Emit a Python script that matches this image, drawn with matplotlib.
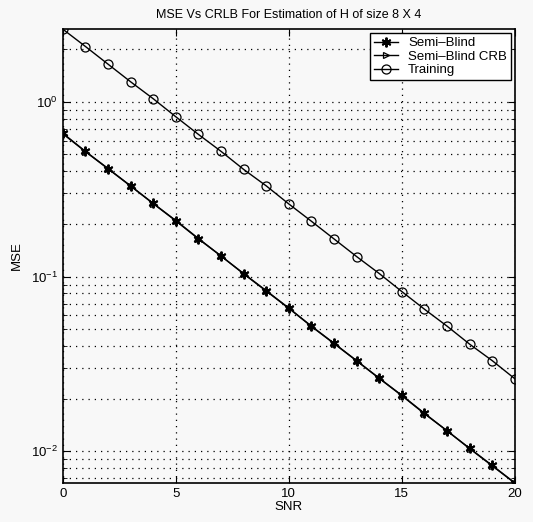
import matplotlib
matplotlib.use("Agg")
import matplotlib.pyplot as plt
from matplotlib.ticker import LogLocator, NullFormatter

plt.rcParams['font.family'] = ['Liberation Sans', 'DejaVu Sans']

snr = list(range(0, 21))
semi_blind = [0.66, 0.52, 0.415, 0.33, 0.262, 0.209, 0.165, 0.131, 0.104, 0.083, 0.066,
              0.052, 0.0415, 0.033, 0.0262, 0.0209, 0.0165, 0.0131, 0.0104, 0.0083, 0.0066]
semi_blind_crb = [0.655, 0.518, 0.413, 0.329, 0.261, 0.208, 0.164, 0.131, 0.1035, 0.0825, 0.0657,
                  0.0518, 0.0413, 0.0329, 0.0261, 0.0208, 0.0164, 0.0131, 0.01035, 0.00825, 0.00657]
training = [2.60, 2.07, 1.64, 1.30, 1.04, 0.82, 0.65, 0.52, 0.41, 0.33, 0.26,
            0.207, 0.164, 0.130, 0.104, 0.082, 0.065, 0.052, 0.041, 0.033, 0.026]

title = "MSE Vs CRLB For Estimation of H of size 8 X 4"
labels = ["Semi–Blind", "Semi–Blind CRB", "Training"]

bg = '#f8f8f8'
fig = plt.figure(figsize=(5.33, 5.22), dpi=100, facecolor=bg)
ax = fig.add_axes([0.118, 0.075, 0.848, 0.869], facecolor=bg)

ax.semilogy(snr, semi_blind, 'k-', marker=(6, 2, 0), markersize=7, markeredgewidth=1.4,
            linewidth=1.0, label=labels[0])
ax.semilogy(snr, semi_blind_crb, 'k-', marker='>', markersize=5, markerfacecolor='none',
            markeredgewidth=0.9, linewidth=1.0, label=labels[1])
ax.semilogy(snr, training, 'k-', marker='o', markersize=6.5, markerfacecolor='none',
            markeredgewidth=0.9, linewidth=1.0, label=labels[2])

ax.set_xlim(0, 20)
ax.set_ylim(0.0066, 2.6)
ax.set_xticks([0, 5, 10, 15, 20])
ax.yaxis.set_major_locator(LogLocator(base=10, numticks=10))
ax.yaxis.set_minor_locator(LogLocator(base=10, subs=range(2, 10), numticks=20))
ax.yaxis.set_minor_formatter(NullFormatter())

ax.grid(True, which='major', axis='both', linestyle=(0, (1, 4)), color='k', linewidth=0.9)
ax.grid(True, which='minor', axis='y', linestyle=(0, (1, 4)), color='k', linewidth=0.9)

ax.tick_params(which='both', direction='in', top=True, right=True, labelsize=9.5)
ax.tick_params(which='major', length=5)
ax.tick_params(which='minor', length=3)
for s in ax.spines.values():
    s.set_linewidth(1.2)

ax.set_title(title, fontsize=9, pad=8)
ax.set_xlabel("SNR", fontsize=9.5, labelpad=1)
ax.set_ylabel("MSE", fontsize=9.5, labelpad=6)

leg = ax.legend(loc='upper right', fontsize=9.5, frameon=True, fancybox=False,
                edgecolor='k', facecolor='white', framealpha=1, handlelength=1.8,
                borderpad=0.3, labelspacing=0.1, borderaxespad=0.3)
leg.get_frame().set_linewidth(1.0)

fig.savefig("out.png", dpi=100, facecolor=bg)
